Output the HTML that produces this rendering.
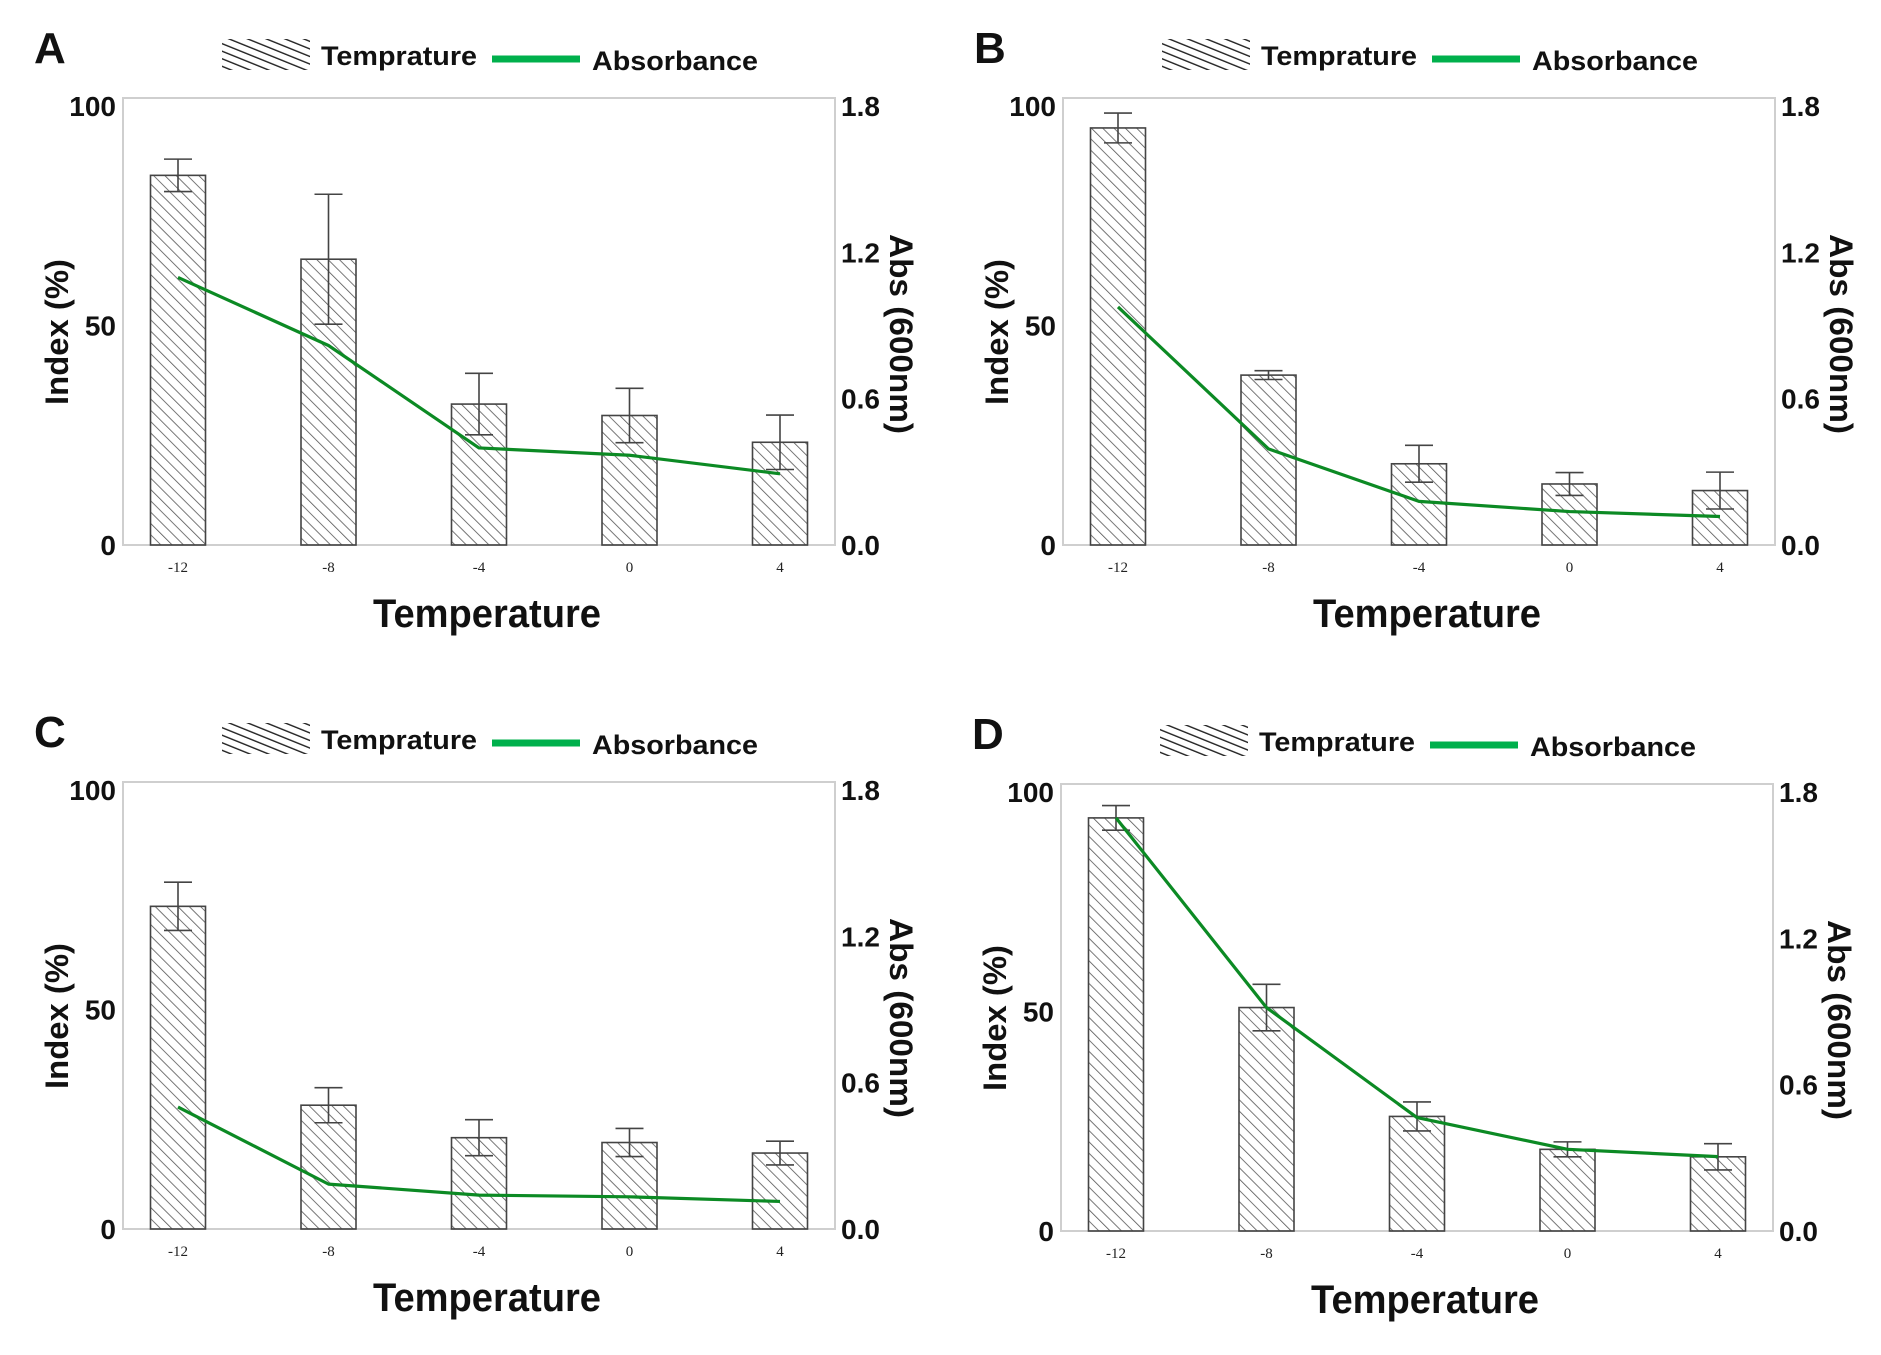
<!DOCTYPE html>
<html><head><meta charset="utf-8"><style>
html,body{margin:0;padding:0;background:#fff;}
svg{display:block;font-family:"Liberation Sans",sans-serif;}
</style></head><body>
<svg id="fig" width="1881" height="1355" viewBox="0 0 1881 1355" xmlns="http://www.w3.org/2000/svg">
<defs>
<pattern id="hatch" patternUnits="userSpaceOnUse" width="8" height="8" patternTransform="rotate(-45)">
<line x1="0" y1="0" x2="0" y2="8" stroke="#555" stroke-width="1.6"/>
</pattern>
<pattern id="hatchLeg" patternUnits="userSpaceOnUse" width="7" height="7" patternTransform="rotate(-68)">
<line x1="0" y1="0" x2="0" y2="7" stroke="#222" stroke-width="2.8"/>
</pattern>
</defs>
</svg>
<script>
const categories = ["-12","-8","-4","0","4"];
const leftTicks = [0,50,100];
const rightTicks = ["0.0","0.6","1.2","1.8"];
const panelLabels = ["A","B","C","D"];
const indexA = [84.2,65.1,32.1,29.5,23.4];
const errA = [3.7,14.8,7.0,6.2,6.2];
const absA = [1.097,0.818,0.398,0.368,0.292];
const indexB = [95.0,38.7,18.5,13.9,12.4];
const errB = [3.4,1.0,4.2,2.6,4.2];
const absB = [0.976,0.394,0.179,0.137,0.117];
const indexC = [73.5,28.2,20.8,19.7,17.3];
const errC = [5.5,4.0,4.1,3.2,2.7];
const absC = [0.500,0.184,0.139,0.132,0.113];
const indexD = [94.1,50.9,26.1,18.6,16.9];
const errD = [2.8,5.3,3.3,1.7,3.0];
const absD = [1.694,0.916,0.465,0.335,0.305];

const NS="http://www.w3.org/2000/svg";
const svg=document.getElementById('fig');
function mk(tag,attrs,parent,text){const e=document.createElementNS(NS,tag);for(const k in attrs)e.setAttribute(k,attrs[k]);if(text!==undefined)e.textContent=text;(parent||svg).appendChild(e);return e;}

function panel(ox,oy,letter,idx,err,abs){
  const g=mk('g',{transform:`translate(${ox},${oy})`});
  
  
  const L=123,R=835,T=98,B=545,Y100=106;
  const y=v=>B-(v/100)*(B-Y100);
  const ya=v=>B-(v/1.8)*(B-Y100);
  const x=i=>178+i*150.5;
  const fr=mk('rect',{x:L,y:T,width:R-L,height:B-T,fill:'none',stroke:'#cfcfcf','stroke-width':2},g);
  
  
  const lt=mk('text',{x:34,y:63,'font-size':44,'font-weight':'bold',fill:'#111'},g,letter);
  
  
  const lh=mk('rect',{x:222,y:39,width:88,height:31,fill:'url(#hatchLeg)'},g);
  
  
  const lt1=mk('text',{x:321,y:65,'font-size':27,'font-weight':'bold',fill:'#111',textLength:156,lengthAdjust:'spacingAndGlyphs'},g,'Temprature');
  
  
  const ll=mk('line',{x1:492,y1:59,x2:580,y2:59,stroke:'#00b04c','stroke-width':7},g);
  
  
  const lt2=mk('text',{x:592,y:70,'font-size':27,'font-weight':'bold',fill:'#111',textLength:166,lengthAdjust:'spacingAndGlyphs'},g,'Absorbance');
  
  
  leftTicks.forEach(v=>{
    const t=mk('text',{x:116,y:y(v)+10,'font-size':28,'font-weight':'bold','text-anchor':'end',fill:'#111'},g,String(v));
    
    
  });
  rightTicks.forEach(s=>{
    const t=mk('text',{x:841,y:ya(parseFloat(s))+10,'font-size':28,'font-weight':'bold',fill:'#111'},g,s);
    
    
  });
  categories.forEach((c,i)=>{
    const bar=mk('rect',{x:x(i)-27.5,y:y(idx[i]),width:55,height:B-y(idx[i]),fill:'url(#hatch)',stroke:'#444','stroke-width':1.6},g);
    
    
    const eb=mk('path',{d:`M${x(i)},${y(idx[i]+err[i])}V${y(idx[i]-err[i])}M${x(i)-14},${y(idx[i]+err[i])}H${x(i)+14}M${x(i)-14},${y(idx[i]-err[i])}H${x(i)+14}`,stroke:'#444','stroke-width':1.6,fill:'none'},g);
    
    
    const tl=mk('text',{x:x(i),y:572,'font-size':15,'font-family':'Liberation Serif, serif','text-anchor':'middle',fill:'#222'},g,c);
    
    
  });
  const pts=abs.map((v,i)=>x(i)+','+ya(v)).join(' ');
  const pl=mk('polyline',{points:pts,fill:'none',stroke:'#0c8a24','stroke-width':3.2,'stroke-linejoin':'round'},g);
  
  
  const xt=mk('text',{x:487,y:627,'font-size':40,'font-weight':'bold','text-anchor':'middle',fill:'#111',textLength:228,lengthAdjust:'spacingAndGlyphs'},g,'Temperature');
  
  
  const yl=mk('text',{x:0,y:0,'font-size':32,'font-weight':'bold','text-anchor':'middle',fill:'#111',textLength:146,lengthAdjust:'spacingAndGlyphs',transform:'translate(68,332) rotate(-90)'},g,'Index (%)');
  
  
  const yr=mk('text',{x:0,y:0,'font-size':32,'font-weight':'bold','text-anchor':'middle',fill:'#111',textLength:200,lengthAdjust:'spacingAndGlyphs',transform:'translate(890,334) rotate(90)'},g,'Abs (600nm)');
  
  
}
panel(0,0,panelLabels[0],indexA,errA,absA);
panel(940,0,panelLabels[1],indexB,errB,absB);
panel(0,684,panelLabels[2],indexC,errC,absC);
panel(938,686,panelLabels[3],indexD,errD,absD);
</script>
</body></html>
